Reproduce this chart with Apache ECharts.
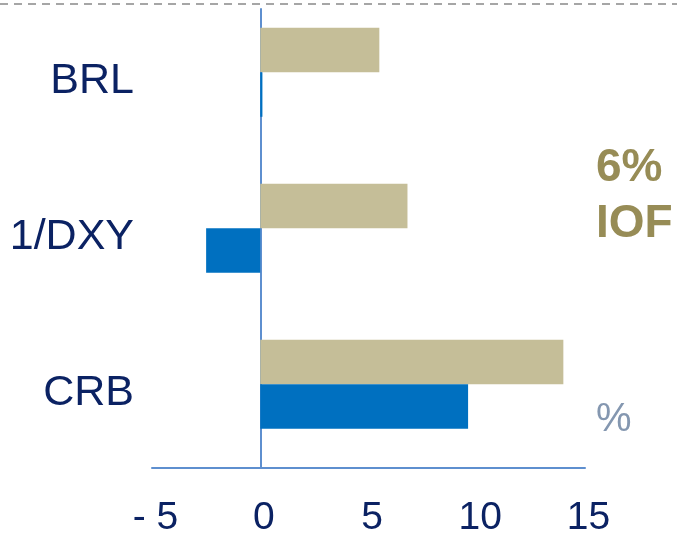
<!DOCTYPE html>
<html><head><meta charset="utf-8">
<script src="https://cdn.jsdelivr.net/npm/echarts@6/dist/echarts.min.js"></script>
<style>html,body{margin:0;padding:0;background:#fff}#c{width:677px;height:536px}</style>
</head><body><div id="c"></div>
<script>
const categories = ['BRL', '1/DXY', 'CRB'];
const tanValues = [5.5, 6.8, 14.0];
const blueValues = [0.1, -2.5, 9.6];
const tickLabels = { '-5': '- 5', '0': '0', '5': '5', '10': '10', '15': '15' };
const noteIOF = '6%\nIOF';
const unitLabel = '%';

const axisBlue = '#5E8FCF';
const navy = '#0B2263';
const chart = echarts.init(document.getElementById('c'), null, { renderer: 'canvas' });
chart.setOption({
  animation: false,
  backgroundColor: '#ffffff',
  title: [
    { text: noteIOF, left: 596, top: 140, padding: 0,
      textStyle: { fontFamily: 'Liberation Sans', fontSize: 46, fontWeight: 'bold', color: '#978C56', lineHeight: 56 } },
    { text: unitLabel, left: 596, top: 400, padding: 0,
      textStyle: { fontFamily: 'Liberation Sans', fontSize: 40, fontWeight: 'normal', color: '#8497B0', lineHeight: 40 } }
  ],
  graphic: [
    { type: 'line', shape: { x1: 0, y1: 4, x2: 677, y2: 4 },
      style: { stroke: '#A6A6A6', lineWidth: 2, lineDash: [8, 6] }, silent: true }
  ],
  grid: [
    { left: 152, right: 92, top: -5.7, bottom: 73.7, containLabel: false, outerBoundsMode: 'none' },
    { left: 152, right: 92, top: 9, bottom: 68, containLabel: false, outerBoundsMode: 'none' }
  ],
  xAxis: [
    { gridIndex: 0, type: 'value', min: -5, max: 15, interval: 5, show: false },
    { gridIndex: 1, type: 'value', min: -5, max: 15, interval: 5,
      axisLine: { show: true, lineStyle: { color: axisBlue, width: 2 } },
      axisTick: { show: false }, splitLine: { show: false },
      axisLabel: { margin: 31, fontFamily: 'Liberation Sans', fontSize: 39, color: navy,
        padding: [0, 0, 0, 7], formatter: v => tickLabels[String(v)] } }
  ],
  yAxis: [
    { gridIndex: 0, type: 'category', data: categories, inverse: true,
      axisLine: { show: false }, axisTick: { show: false }, splitLine: { show: false },
      axisLabel: { margin: 18, fontFamily: 'Liberation Sans', fontSize: 43, color: navy,
        verticalAlign: 'top', lineHeight: 18 } },
    { gridIndex: 1, type: 'value', min: 0, max: 1,
      axisLine: { show: true, onZero: true, lineStyle: { color: axisBlue, width: 2 } },
      axisTick: { show: false }, axisLabel: { show: false }, splitLine: { show: false } }
  ],
  series: [
    { type: 'bar', xAxisIndex: 0, yAxisIndex: 0, data: tanValues, barWidth: 44.5, barGap: '0%',
      itemStyle: { color: '#C5BE98' } },
    { type: 'bar', xAxisIndex: 0, yAxisIndex: 0, data: blueValues, barWidth: 44.5, barGap: '0%',
      itemStyle: { color: '#0070C0' } }
  ]
});
</script></body></html>
